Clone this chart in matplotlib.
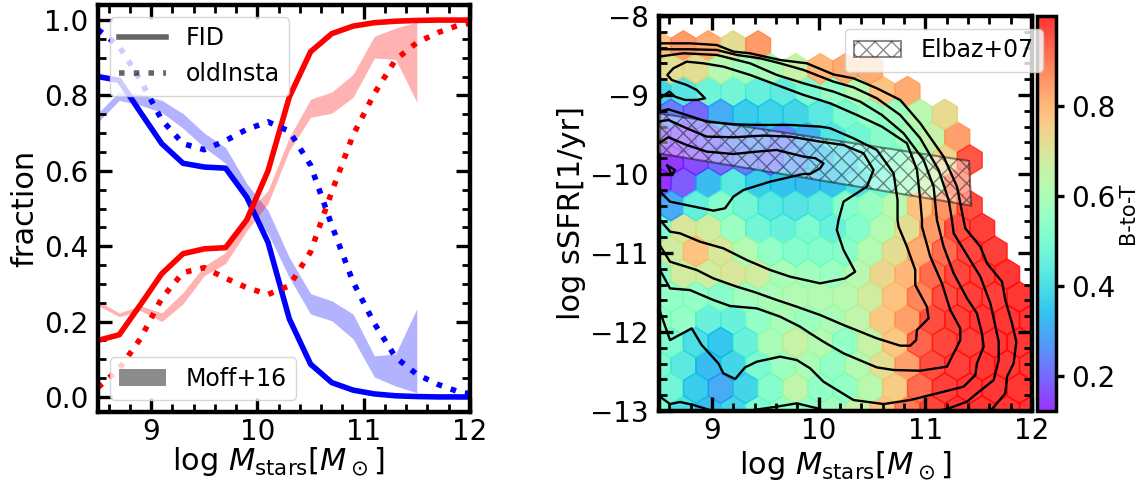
import matplotlib
matplotlib.use("Agg")
import matplotlib.pyplot as plt
import matplotlib.patches as mpatches
from matplotlib.lines import Line2D
from matplotlib.ticker import MultipleLocator
import numpy as np

# ── left panel: fractions vs stellar mass ──────────────────────────────────────
mass_bins = [8.5, 8.7, 8.9, 9.1, 9.3, 9.5, 9.7, 9.9, 10.1, 10.3, 10.5, 10.7, 10.9,
             11.1, 11.3, 11.5, 11.7, 11.9, 12.1]
blue_fid = [.85, .84, .755, .672, .62, .61, .607, .53, .41, .207, .087, .038, .018,
            .008, .003, .001, 0, 0, 0]
red_fid = [.15, .165, .245, .327, .38, .393, .396, .47, .6, .796, .916, .964, .984,
           .993, .997, .999, 1, 1, 1]
blue_old = [.975, .93, .84, .735, .672, .656, .68, .71, .73, .705, .615, .455, .305,
            .195, .105, .06, .033, .013, .004]
red_old = [.025, .075, .155, .262, .33, .343, .315, .29, .272, .295, .385, .545, .695,
           .805, .895, .94, .967, .987, .996]

moff_bins = [8.5, 8.7, 8.9, 9.1, 9.3, 9.5, 9.7, 9.9, 10.1, 10.3, 10.5, 10.7, 10.9,
             11.1, 11.3, 11.5]
moff_blue_hi = [.753, .81, .803, .787, .752, .70, .662, .566, .495, .37, .274, .255, .22,
                .109, .114, .234]
moff_blue_lo = [.729, .787, .774, .755, .713, .662, .62, .513, .433, .317, .22, .202, .154,
                .053, .029, .011]
moff_red_hi = [.255, .223, .242, .223, .277, .348, .383, .487, .548, .689, .79, .809, .856,
               .957, .979, .995]
moff_red_lo = [.242, .213, .229, .2, .247, .322, .354, .441, .513, .654, .742, .753, .795,
               .899, .896, .782]

# ── right panel: B-to-T per hexagon, rows from top to bottom ──────────────────
hex_rows = {
    16: [.78, .85, .82, .72, .85],
    15: [.72, .72, .63, .58, .6, .66, .8, .82, .82],
    14: [.38, .42, .47, .48, .45, .44, .5, .55, .62, .78, .82],
    13: [.23, .2, .3, .36, .37, .38, .43, .5, .55, .57, .63, .73],
    12: [.16, .16, .2, .24, .26, .23, .31, .42, .48, .53, .58, .66, .84],
    11: [.13, .16, .2, .23, .22, .27, .33, .38, .45, .52, .6, .74, .95],
    10: [.12, .18, .33, .43, .36, .34, .33, .34, .4, .48, .58, .66, .92],
    9: [.3, .45, .52, .48, .43, .42, .44, .52, .56, .63, .78, .86, .96],
    8: [.5, .7, .68, .57, .48, .46, .5, .46, .52, .62, .72, .85, .96, .98],
    7: [.68, .78, .7, .62, .55, .52, .52, .53, .62, .72, .82, .92, .97, .98],
    6: [.52, .68, .68, .7, .68, .6, .58, .57, .63, .74, .8, .92, .97, .98, .99],
    5: [.55, .55, .53, .58, .6, .62, .62, .63, .68, .78, .88, .96, .98, .98, .99],
    4: [.55, .55, .46, .46, .55, .6, .57, .6, .65, .77, .84, .96, .98, .99, .99, .99],
    3: [.5, .4, .35, .46, .6, .66, .62, .55, .66, .77, .93, .97, .98, .99, .99],
    2: [.5, .43, .33, .38, .5, .57, .6, .55, .62, .72, .84, .96, .98, .99, .99, .99],
    1: [.48, .36, .3, .38, .52, .64, .55, .55, .63, .76, .92, .98, .99, .99, .99],
    0: [.5, .4, .33, .38, .5, .55, .55, .58, .66, .78, .9, .97, .99, .99, .99, .99],
}

# contour lines: (log mass, log sSFR)
contour_a_x = [8.5, 8.795, 9.046, 9.202, 9.358, 9.64, 9.89, 10.14, 10.327, 10.546, 10.765,
               10.953, 11.172, 11.297, 11.359, 11.375, 11.516, 11.578, 11.719, 11.75, 11.813,
               11.853, 11.828, 11.766, 11.75, 11.61]
contour_a_y = [-8.346, -8.346, -8.367, -8.451, -8.472, -8.557, -8.599, -8.74, -8.789, -8.915,
               -9.063, -9.358, -9.78, -10.16, -10.582, -10.688, -10.92, -11.131, -11.363,
               -11.595, -11.89, -12.123, -12.397, -12.566, -12.777, -13.0]
contour_b_x = [8.5, 8.795, 9.046, 9.233, 9.452, 9.64, 9.859, 10.14, 10.327, 10.546, 10.765,
               10.953, 11.125, 11.219, 11.25, 11.266, 11.391, 11.516, 11.61, 11.688, 11.688,
               11.641, 11.484, 11.391, 11.203, 11.1]
contour_b_y = [-8.421, -8.421, -8.43, -8.493, -8.535, -8.599, -8.683, -8.831, -8.903, -9.042,
               -9.253, -9.548, -9.949, -10.329, -10.582, -10.751, -11.026, -11.3, -11.637,
               -12.123, -12.355, -12.608, -12.777, -12.882, -12.975, -13.0]
contour_c_x = [8.5, 8.733, 9.046, 9.358, 9.608, 9.859, 10.14, 10.39, 10.593, 10.797, 10.984,
               11.078, 11.109, 11.172, 11.266, 11.391, 11.484, 11.531, 11.547, 11.484, 11.469,
               11.359, 11.109, 10.859, 10.609, 10.327, 10.046, 9.921, 9.796, 9.64, 9.421,
               9.311, 9.218, 9.108, 9.061, 8.905, 8.811, 8.608, 8.52, 8.5]
contour_c_y = [-8.514, -8.472, -8.493, -8.599, -8.746, -8.852, -8.957, -9.084, -9.253, -9.485,
               -9.822, -10.16, -10.582, -10.92, -11.258, -11.574, -11.764, -12.017, -12.186,
               -12.397, -12.545, -12.692, -12.777, -12.861, -12.912, -12.861, -12.629, -12.46,
               -12.355, -12.312, -12.376, -12.448, -12.595, -12.523, -12.397, -12.165, -11.954,
               -12.102, -11.764, -11.68]
contour_d_x = [8.5, 8.514, 8.602, 8.655, 8.749, 8.858, 8.936, 8.858, 8.764, 8.624, 8.583, 8.639,
               8.764, 8.921, 9.108, 9.358, 9.608, 9.859, 10.109, 10.359, 10.593, 10.828, 10.922,
               10.953, 10.969, 10.969, 11.047, 11.156, 11.234, 11.328, 11.328, 11.203, 10.953,
               10.703, 10.546, 10.234, 10.046, 9.921, 9.827, 9.64, 9.421, 9.171, 9.014, 8.795,
               8.608, 8.514, 8.5]
contour_d_y = [-9.04, -9.042, -8.957, -9.021, -9.063, -9.063, -9.042, -8.936, -8.873, -8.81,
               -8.746, -8.662, -8.578, -8.599, -8.641, -8.746, -8.873, -8.999, -9.105, -9.253,
               -9.4, -9.611, -9.949, -10.329, -10.582, -10.667, -11.047, -11.384, -11.722,
               -11.954, -12.102, -12.439, -12.49, -12.481, -12.448, -12.27, -12.123, -12.017,
               -11.933, -11.806, -11.701, -11.671, -11.595, -11.469, -11.448, -11.215, -11.2]
contour_e_x = [8.5, 8.592, 8.764, 8.952, 9.202, 9.421, 9.734, 10.015, 10.109, 10.327, 10.546,
               10.703, 10.74, 10.74, 10.75, 10.828, 10.906, 10.906, 11.015, 11.031, 10.921,
               10.915, 10.859, 10.765, 10.546, 10.234, 10.015, 9.796, 9.608, 9.39, 9.233,
               9.014, 8.858, 8.608, 8.53, 8.5]
contour_e_y = [-9.211, -9.181, -9.253, -9.337, -9.371, -9.379, -9.379, -9.4, -9.421, -9.548,
               -9.696, -9.991, -10.329, -10.582, -10.667, -10.92, -11.215, -11.405, -11.68,
               -11.827, -11.975, -12.102, -12.173, -12.173, -12.08, -11.912, -11.785, -11.68,
               -11.595, -11.49, -11.426, -11.321, -11.215, -11.11, -10.941, -10.87]
contour_f_x = [8.5, 8.592, 8.764, 8.952, 9.202, 9.483, 9.734, 10.015, 10.234, 10.421, 10.515,
               10.453, 10.234, 10.187, 10.171, 10.234, 10.343, 10.249, 10.015, 9.734, 9.546,
               9.327, 9.108, 8.889, 8.702, 8.608, 8.514, 8.5]
contour_f_y = [-9.337, -9.316, -9.421, -9.527, -9.535, -9.514, -9.527, -9.59, -9.633, -9.738,
               -9.949, -10.16, -10.35, -10.582, -10.709, -10.962, -11.237, -11.321, -11.384,
               -11.3, -11.215, -11.089, -10.941, -10.857, -10.751, -10.73, -10.583, -10.55]
contour_g_x = [8.5, 8.592, 8.764, 8.952, 9.202, 9.421, 9.608, 9.859, 9.97, 10.046, 10.015, 9.921,
               9.859, 9.546, 9.296, 9.202, 9.124, 9.015, 8.608, 8.53, 8.5]
contour_g_y = [-9.611, -9.535, -9.633, -9.717, -9.747, -9.717, -9.696, -9.78, -9.80, -9.865,
               -9.928, -9.999, -9.999, -10.097, -10.202, -10.286, -10.434, -10.464, -10.35,
               -10.244, -10.2]
contour_loop_x = [8.583, 8.655, 8.624, 8.583]
contour_loop_y = [-9.894, -9.949, -10.012, -9.894]
contour_s1_x = [8.514, 8.608, 8.702, 8.827, 8.983, 9.05]
contour_s1_y = [-12.819, -12.912, -12.886, -12.924, -12.988, -13.0]
contour_s2_x = [9.39, 9.608, 9.796, 10.015]
contour_s2_y = [-12.988, -12.945, -12.903, -12.975]

elbaz_x = [8.5, 11.41, 11.43, 8.5]
elbaz_y = [-9.232, -9.835, -10.40, -9.738]

FIG_W, FIG_H = 1146, 487
plt.rcParams["hatch.linewidth"] = 1.0


def _axes_px(fig, left, top, right, bottom):
    return fig.add_axes([left / FIG_W, 1 - bottom / FIG_H,
                         (right - left) / FIG_W, (bottom - top) / FIG_H])


def _style_axes(ax):
    for spine in ax.spines.values():
        spine.set_linewidth(3.2)
    ax.tick_params(which="both", direction="in", top=True, right=True, labelsize=20)
    ax.tick_params(which="major", length=10, width=2.4, pad=7)
    ax.tick_params(axis="x", which="major", pad=4)
    ax.tick_params(which="minor", length=5.5, width=2)
    ax.set_xlabel(r"log $M_{\rm stars}[M_\odot]$", fontsize=22, labelpad=3)


fig = plt.figure(figsize=(FIG_W / 100, FIG_H / 100), dpi=100)

# left panel
ax1 = _axes_px(fig, 98, 5, 470, 412)
ax1.fill_between(moff_bins, moff_blue_lo, moff_blue_hi, color="blue", alpha=0.3, lw=0)
ax1.fill_between(moff_bins, moff_red_lo, moff_red_hi, color="red", alpha=0.3, lw=0)
ax1.plot(mass_bins, blue_fid, color="blue", lw=4)
ax1.plot(mass_bins, red_fid, color="red", lw=4)
ax1.plot(mass_bins, blue_old, color="blue", lw=4, ls=":")
ax1.plot(mass_bins, red_old, color="red", lw=4, ls=":")
ax1.set_xlim(8.5, 12)
ax1.set_ylim(-0.04, 1.04)
ax1.xaxis.set_major_locator(MultipleLocator(1))
ax1.xaxis.set_minor_locator(MultipleLocator(0.2))
ax1.yaxis.set_major_locator(MultipleLocator(0.2))
ax1.yaxis.set_minor_locator(MultipleLocator(0.05))
ax1.set_ylabel("fraction", fontsize=22, labelpad=3)
_style_axes(ax1)
ax1.xaxis.set_label_coords(0.485, -0.08)

line_handles = [Line2D([], [], color="k", alpha=0.6, lw=4, label="FID"),
                Line2D([], [], color="k", alpha=0.6, lw=4, ls=":", label="oldInsta")]
leg_lines = ax1.legend(handles=line_handles, loc="upper left", fontsize=17)
ax1.add_artist(leg_lines)
moff_handle = mpatches.Patch(color="k", alpha=0.45, lw=0, label="Moff+16")
ax1.legend(handles=[moff_handle], loc="lower left", fontsize=17)

# right panel
ax2 = _axes_px(fig, 658.5, 16, 1032, 411)
ax2.set_zorder(5)

hex_dx = 3.5 / 15
hex_row_dy = 0.2888
hex_x, hex_y, hex_c = [], [], []
for row, values in hex_rows.items():
    for col, val in enumerate(values):
        hex_x.append(8.5 + (col + 0.5 * (row % 2)) * hex_dx)
        hex_y.append(-13 + row * hex_row_dy)
        hex_c.append(val)

hb = ax2.hexbin(hex_x, hex_y, C=hex_c, gridsize=(15, 9),
                extent=(8.5, 12, -13, -13 + 18 * hex_row_dy),
                cmap="rainbow", vmin=0.122, vmax=1.0, alpha=0.8)

ax2.fill(elbaz_x, elbaz_y, facecolor=(1, 1, 1, 0.4), edgecolor=(0, 0, 0, 0.45),
         hatch="xx", lw=1.5, label="Elbaz+07", zorder=3)

contours = [(contour_a_x, contour_a_y), (contour_b_x, contour_b_y), (contour_c_x, contour_c_y),
            (contour_d_x, contour_d_y), (contour_e_x, contour_e_y), (contour_f_x, contour_f_y),
            (contour_g_x, contour_g_y), (contour_loop_x, contour_loop_y),
            (contour_s1_x, contour_s1_y), (contour_s2_x, contour_s2_y)]
for cx, cy in contours:
    ax2.plot(cx, cy, color="k", lw=1.7, zorder=4)

ax2.set_xlim(8.5, 12)
ax2.set_ylim(-13, -8)
ax2.xaxis.set_major_locator(MultipleLocator(1))
ax2.xaxis.set_minor_locator(MultipleLocator(0.2))
ax2.yaxis.set_major_locator(MultipleLocator(1))
ax2.yaxis.set_minor_locator(MultipleLocator(0.2))
ax2.set_ylabel("log sSFR[1/yr]", fontsize=22, labelpad=3)
_style_axes(ax2)

ax2.legend(loc="upper right", bbox_to_anchor=(1.029, 0.967), borderaxespad=0, fontsize=17)

# colorbar
cax = _axes_px(fig, 1036.5, 16, 1056, 411)
cbar = fig.colorbar(hb, cax=cax)
cbar.set_ticks([0.2, 0.4, 0.6, 0.8])
cbar.ax.tick_params(labelsize=20, length=6, width=2.4, direction="out", pad=5)
cbar.ax.minorticks_off()
cbar.outline.set_linewidth(2.5)
cbar.set_label("B-to-T", fontsize=15, labelpad=2)

fig.savefig("out.png", dpi=100)
plt.close(fig)
